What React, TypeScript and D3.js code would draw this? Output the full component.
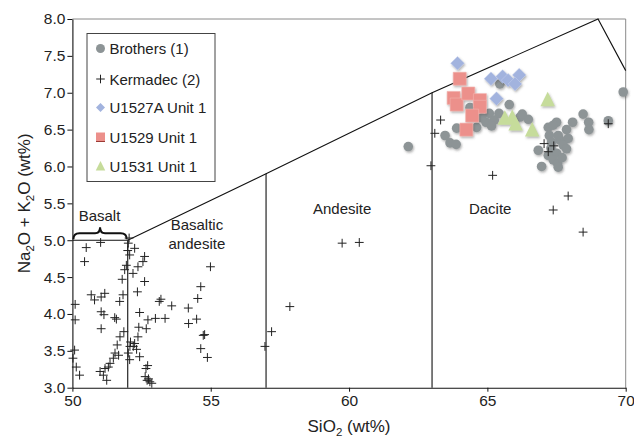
import React, { useRef, useEffect } from "react";
import * as d3 from "d3";

// SiO2 (wt%), Na2O + K2O (wt%)
const brothers: [number, number][] = [
  [65.45, 7.12], [65.79, 6.84], [65.07, 6.72], [65.25, 6.63], [65.42, 6.72],
  [66.18, 6.67], [66.48, 6.64], [66.26, 6.71], [64.49, 6.79], [64.37, 6.8],
  [63.89, 6.52], [64.61, 6.53], [63.47, 6.42], [63.65, 6.32], [63.87, 6.3],
  [62.14, 6.27], [64.95, 6.6], [64.8, 6.66], [67.2, 6.53], [67.5, 6.6],
  [67.38, 6.56], [67.86, 6.5], [68.08, 6.6], [68.46, 6.71], [68.66, 6.6],
  [68.67, 6.5], [69.37, 6.62], [69.91, 7.01], [67.24, 6.42], [67.32, 6.33],
  [67.62, 6.36], [67.92, 6.38], [67.74, 6.29], [67.86, 6.24], [66.84, 6.22],
  [67.2, 6.15], [67.5, 6.18], [66.96, 6.0], [67.38, 6.09], [67.54, 6.04],
  [67.56, 5.99], [67.7, 6.12], [67.56, 6.42], [67.3, 6.25], [65.15, 6.55],
];

const kermadec: [number, number][] = [
  [50.5, 4.9], [50.44, 4.71], [51.02, 4.97], [52.05, 5.03], [52.02, 4.96],
  [52.0, 4.86], [52.25, 4.89], [52.07, 4.8], [52.61, 4.78], [52.55, 4.71],
  [52.37, 4.64], [51.95, 4.66], [51.89, 4.6], [52.19, 4.55], [51.8, 4.47],
  [52.61, 4.44], [52.35, 4.3], [50.68, 4.26], [50.8, 4.19], [51.04, 4.23],
  [51.17, 4.28], [51.83, 4.26], [51.71, 4.17], [50.1, 4.13], [50.1, 3.92],
  [51.04, 4.03], [51.14, 3.99], [51.53, 3.95], [51.59, 3.93], [51.04, 3.8],
  [51.86, 3.76], [52.43, 4.02], [52.73, 3.92], [52.67, 3.8], [52.4, 3.82],
  [52.37, 3.69], [52.1, 3.62], [52.2, 3.56], [52.32, 3.52], [52.08, 3.56],
  [52.25, 3.6], [52.02, 3.47], [52.07, 3.38], [52.43, 3.42], [51.72, 3.69],
  [51.62, 3.58], [51.67, 3.44], [51.54, 3.47], [51.48, 3.4], [51.36, 3.33],
  [51.3, 3.28], [51.18, 3.26], [51.12, 3.17], [51.24, 3.1], [51.0, 3.22],
  [50.08, 3.51], [50.02, 3.4], [50.14, 3.28], [50.26, 3.17], [52.66, 3.26],
  [52.72, 3.3], [52.7, 3.1], [52.75, 3.12], [52.8, 3.08], [52.63, 3.15],
  [52.87, 3.06], [53.0, 3.94], [53.35, 3.94], [53.14, 4.17], [53.2, 4.2],
  [53.59, 4.11], [54.19, 4.08], [54.2, 3.87], [54.49, 3.93], [54.53, 4.21],
  [54.64, 4.37], [54.99, 4.64], [54.73, 3.71], [54.78, 3.72], [54.64, 3.53],
  [54.88, 3.41], [56.96, 3.56], [57.2, 3.76], [57.86, 4.1], [59.75, 4.96],
  [60.37, 4.97], [63.31, 6.63], [63.1, 6.45], [62.96, 6.01], [65.19, 5.88],
  [67.92, 5.6], [67.38, 5.41], [67.05, 6.31], [67.4, 6.28], [67.2, 6.2],
  [69.37, 6.58], [68.46, 5.11],
];

const u1527a: [number, number][] = [
  [63.92, 7.4], [65.13, 7.19], [65.55, 7.22], [65.75, 7.17], [66.15, 7.24],
  [66.0, 7.12], [65.33, 6.92],
];

const u1529: [number, number][] = [
  [64.0, 7.19], [63.78, 6.93], [63.89, 6.84], [64.31, 6.99], [64.73, 6.9],
  [64.73, 6.81], [64.45, 6.69], [64.24, 6.5],
];

const u1531: [number, number][] = [
  [65.63, 6.66], [65.9, 6.67], [66.02, 6.58], [66.62, 6.5], [67.18, 6.91],
];

// TAS field boundaries
const upperBoundary: [number, number][] = [[52, 5.0], [57, 5.9], [63, 7.0], [69, 8.0], [70, 7.3]];
const dividers: [number, number, number][] = [[52, 3.0, 5.0], [57, 3.0, 5.9], [63, 3.0, 7.0]];
const xTicks = [50, 55, 60, 65, 70];
const yTicks = [3.0, 3.5, 4.0, 4.5, 5.0, 5.5, 6.0, 6.5, 7.0, 7.5, 8.0];

const fieldLabels = [
  { lines: ["Basalt"], x: 50.98, y: 5.26 },
  { lines: ["Basaltic", "andesite"], x: 54.5, y: 5.14 },
  { lines: ["Andesite"], x: 59.75, y: 5.36 },
  { lines: ["Dacite"], x: 65.1, y: 5.36 },
];

const colors = {
  brothers: "#8d9496",
  cross: "#222",
  diamond: "#a2b3de",
  square: "#ec908b",
  triangle: "#c6dc9b",
};

const FONT = "'Liberation Sans', Arial, Helvetica, sans-serif";

const App = () => {
  const svgRef = useRef<SVGSVGElement>(null);

  useEffect(() => {
    const width = 634;
    const height = 439;
    const margin = { top: 19, right: 8.3, bottom: 51.3, left: 72.4 };

    const svg = d3.select(svgRef.current);
    svg.selectAll("*").remove();

    const x = d3.scaleLinear().domain([50, 70]).range([margin.left, width - margin.right]);
    const y = d3.scaleLinear().domain([3, 8]).range([height - margin.bottom, margin.top]);

    const defs = svg.append("defs");
    const f = defs.append("filter").attr("id", "shadow").attr("x", "-50%").attr("y", "-50%")
      .attr("width", "200%").attr("height", "200%");
    f.append("feDropShadow").attr("dx", 1).attr("dy", 1.5).attr("stdDeviation", 0.8)
      .attr("flood-color", "#555").attr("flood-opacity", 0.45);

    // frame
    svg.append("line").attr("x1", x(50)).attr("x2", x(70)).attr("y1", y(8)).attr("y2", y(8))
      .attr("stroke", "#8a8a8a");
    svg.append("line").attr("x1", x(70)).attr("x2", x(70)).attr("y1", y(8)).attr("y2", y(3))
      .attr("stroke", "#8a8a8a");

    // field boundaries
    const line = d3.line<[number, number]>().x((d) => x(d[0])).y((d) => y(d[1]));
    svg.append("path").attr("d", line(upperBoundary)).attr("fill", "none").attr("stroke", "#111").attr("stroke-width", 1.1);
    svg.append("path").attr("d", line([[50, 5.0], [52, 5.0]])).attr("fill", "none").attr("stroke", "#111").attr("stroke-width", 1.1);
    svg.selectAll(".div").data(dividers).join("line")
      .attr("x1", (d) => x(d[0])).attr("x2", (d) => x(d[0]))
      .attr("y1", (d) => y(d[1])).attr("y2", (d) => y(d[2]))
      .attr("stroke", "#111").attr("stroke-width", 1.1);

    // brace over basalt
    const bx0 = x(50) + 1, bx1 = x(52) - 1, bm = (bx0 + bx1) / 2, by = y(5.0) - 1;
    const bh = 12;
    svg.append("path")
      .attr("d", `M${bx0},${by} Q${bx0},${by - bh / 2} ${bx0 + 6},${by - bh / 2} L${bm - 5},${by - bh / 2} Q${bm},${by - bh / 2} ${bm},${by - bh} Q${bm},${by - bh / 2} ${bm + 5},${by - bh / 2} L${bx1 - 6},${by - bh / 2} Q${bx1},${by - bh / 2} ${bx1},${by}`)
      .attr("fill", "none").attr("stroke", "#111").attr("stroke-width", 2);

    // field labels
    fieldLabels.forEach((l) => {
      const t = svg.append("text").attr("x", x(l.x)).attr("y", y(l.y))
        .attr("text-anchor", "middle").attr("font-family", FONT).attr("font-size", 15).attr("fill", "#222");
      l.lines.forEach((s, i) => t.append("tspan").attr("x", x(l.x)).attr("dy", i === 0 ? 0 : 19.5).text(s));
    });

    // brothers circles
    svg.append("g").attr("filter", "url(#shadow)").selectAll("circle").data(brothers).join("circle")
      .attr("cx", (d) => x(d[0])).attr("cy", (d) => y(d[1])).attr("r", 4.8)
      .attr("fill", colors.brothers);

    const diamond = (s: number) => `M0,${-s}L${s},0L0,${s}L${-s},0Z`;
    const square = (s: number) => `M${-s},${-s}H${s}V${s}H${-s}Z`;
    const tri = (s: number) => `M0,${-s}L${s * 0.95},${s * 0.9}L${-s * 0.95},${s * 0.9}Z`;
    const cross = (s: number) => `M${-s},0H${s}M0,${-s}V${s}`;

    svg.append("g").attr("filter", "url(#shadow)").selectAll("path").data(u1527a).join("path")
      .attr("transform", (d) => `translate(${x(d[0])},${y(d[1])})`).attr("d", diamond(6.8))
      .attr("fill", colors.diamond).attr("stroke", "#c4cfec").attr("stroke-width", 0.5);
    svg.append("g").attr("filter", "url(#shadow)").selectAll("path").data(u1529).join("path")
      .attr("transform", (d) => `translate(${x(d[0])},${y(d[1])})`).attr("d", square(6.5))
      .attr("fill", colors.square).attr("stroke", "#f3b3ae").attr("stroke-width", 0.6);
    svg.append("g").attr("filter", "url(#shadow)").selectAll("path").data(u1531).join("path")
      .attr("transform", (d) => `translate(${x(d[0])},${y(d[1])})`).attr("d", tri(7.6))
      .attr("fill", colors.triangle);

    svg.append("g").selectAll("path").data(kermadec).join("path")
      .attr("transform", (d) => `translate(${x(d[0])},${y(d[1])})`).attr("d", cross(4.4))
      .attr("stroke", colors.cross).attr("stroke-width", 1).attr("fill", "none");

    // axes
    const xAxis = svg.append("g").attr("transform", `translate(0,${y(3)})`)
      .call(d3.axisBottom(x).tickValues(xTicks).tickSize(4).tickSizeOuter(0).tickPadding(3).tickFormat(d3.format("d")));
    const yAxis = svg.append("g").attr("transform", `translate(${x(50)},0)`)
      .call(d3.axisLeft(y).tickValues(yTicks).tickSize(5).tickSizeOuter(0).tickPadding(2).tickFormat(d3.format(".1f")));
    [xAxis, yAxis].forEach((a) => {
      a.select(".domain").attr("stroke", "#111").attr("stroke-width", 1.1);
      a.selectAll(".tick line").attr("stroke", "#111");
      a.selectAll("text").attr("font-family", FONT).attr("font-size", 15.5).attr("fill", "#222");
    });

    // axis titles
    const xt = svg.append("text").attr("x", 349).attr("y", 432).attr("text-anchor", "middle")
      .attr("font-family", FONT).attr("font-size", 17).attr("fill", "#222");
    xt.append("tspan").text("SiO");
    xt.append("tspan").attr("font-size", 11.5).attr("dy", 4).text("2");
    xt.append("tspan").attr("dy", -4).text(" (wt%)");

    const yt = svg.append("text").attr("transform", `translate(30,${(y(3) + y(8)) / 2}) rotate(-90)`)
      .attr("text-anchor", "middle").attr("font-family", FONT).attr("font-size", 17).attr("fill", "#222");
    yt.append("tspan").text("Na");
    yt.append("tspan").attr("font-size", 11.5).attr("dy", 4).text("2");
    yt.append("tspan").attr("dy", -4).text("O + K");
    yt.append("tspan").attr("font-size", 11.5).attr("dy", 4).text("2");
    yt.append("tspan").attr("dy", -4).text("O (wt%)");

    // legend
    const lg = svg.append("g");
    lg.append("rect").attr("x", 87).attr("y", 33.5).attr("width", 128).attr("height", 148)
      .attr("fill", "#fff").attr("stroke", "#444").attr("stroke-width", 1);
    const items = [
      { label: "Brothers (1)", kind: "circle" },
      { label: "Kermadec (2)", kind: "cross" },
      { label: "U1527A Unit 1", kind: "diamond" },
      { label: "U1529 Unit 1", kind: "square" },
      { label: "U1531 Unit 1", kind: "triangle" },
    ];
    const rowY = [48.5, 79, 107.5, 137, 166];
    items.forEach((it, i) => {
      const g = lg.append("g").attr("transform", `translate(100.5,${rowY[i]})`);
      if (it.kind === "circle") g.append("circle").attr("r", 4.5).attr("fill", colors.brothers);
      if (it.kind === "cross") g.append("path").attr("d", cross(4.3)).attr("stroke", colors.cross).attr("fill", "none");
      if (it.kind === "diamond") g.append("path").attr("d", diamond(4.5)).attr("fill", colors.diamond);
      if (it.kind === "square") {
        g.append("path").attr("d", square(4.5)).attr("fill", colors.square);
        g.append("line").attr("x1", -4.5).attr("x2", 4.5).attr("y1", 4.5).attr("y2", 4.5).attr("stroke", "#9b3a35");
      }
      if (it.kind === "triangle") g.append("path").attr("d", tri(5)).attr("fill", colors.triangle);
      lg.append("text").attr("x", 109.5).attr("y", rowY[i] + 5.5).attr("font-family", FONT)
        .attr("font-size", 15).attr("fill", "#222").text(it.label);
    });
  }, []);

  return (
    <svg
      ref={svgRef}
      width={634}
      height={439}
      style={{ position: "absolute", left: 0, top: 0, background: "#fff" }}
    />
  );
};

export default App;
